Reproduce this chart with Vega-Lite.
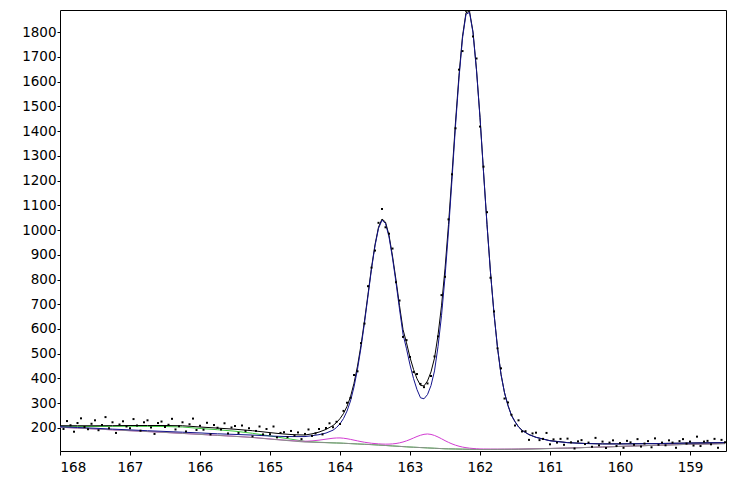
{
 "$schema": "https://vega.github.io/schema/vega-lite/v6.json",
 "width": 666,
 "height": 441,
 "autosize": {"type": "none"},
 "padding": {"left": 60, "top": 10, "right": 10, "bottom": 28},
 "config": {
  "view": {"stroke": "#000", "strokeWidth": 1},
  "axis": {"labelFont": "DejaVu Sans", "labelFontSize": 13.5, "labelColor": "#000", "tickColor": "#000", "domain": false, "grid": false, "title": null, "labelOverlap": false}
 },
 "datasets": {
  "fit": [
   {"E":168.00,"bg":203,"mag":203,"grn":207,"blu":205,"env":209},
   {"E":167.75,"bg":199.5,"mag":199.5,"grn":206.5,"blu":202,"env":209},
   {"E":167.50,"bg":196,"mag":196,"grn":206,"blu":199,"env":209},
   {"E":167.25,"bg":192.5,"mag":192.5,"grn":206.5,"blu":195.4,"env":209.4},
   {"E":167.00,"bg":189,"mag":189,"grn":207,"blu":192.3,"env":210},
   {"E":166.75,"bg":185.5,"mag":185.5,"grn":206.5,"blu":189,"env":210},
   {"E":166.50,"bg":182,"mag":182.1,"grn":206,"blu":186,"env":210},
   {"E":166.25,"bg":178,"mag":178.1,"grn":204,"blu":183,"env":209},
   {"E":166.00,"bg":174,"mag":174.2,"grn":198,"blu":180,"env":204},
   {"E":165.75,"bg":170,"mag":170.3,"grn":193,"blu":176.5,"env":199.5},
   {"E":165.50,"bg":166,"mag":166.4,"grn":187,"blu":174,"env":195},
   {"E":165.25,"bg":161.5,"mag":162,"grn":178.5,"blu":171.4,"env":189},
   {"E":165.00,"bg":155,"mag":155.7,"grn":168,"blu":167.6,"env":181.3},
   {"E":164.90,"bg":152.6,"mag":153.4,"grn":163.6,"blu":166.5,"env":178.3},
   {"E":164.80,"bg":150.2,"mag":151.2,"grn":159.2,"blu":165.7,"env":175.7},
   {"E":164.70,"bg":147.8,"mag":149.1,"grn":154.8,"blu":165.3,"env":173.6},
   {"E":164.60,"bg":145.4,"mag":147.4,"grn":150.4,"blu":165.2,"env":172.2},
   {"E":164.50,"bg":143,"mag":146.2,"grn":146,"blu":165.4,"env":171.6},
   {"E":164.40,"bg":142.2,"mag":147.8,"grn":144.2,"blu":168.7,"env":176.3},
   {"E":164.30,"bg":141.4,"mag":150.8,"grn":142.4,"blu":173,"env":183.4},
   {"E":164.20,"bg":140.6,"mag":154.8,"grn":141.1,"blu":179.5,"env":194.2},
   {"E":164.10,"bg":139.8,"mag":158.6,"grn":139.8,"blu":191.1,"env":209.9},
   {"E":164.05,"bg":139.4,"mag":159.6,"grn":139.4,"blu":201.8,"env":222},
   {"E":164.00,"bg":139,"mag":159.8,"grn":139,"blu":217,"env":237.8},
   {"E":163.95,"bg":138.3,"mag":158.6,"grn":138.3,"blu":238.2,"env":258.5},
   {"E":163.90,"bg":137.6,"mag":156.6,"grn":137.6,"blu":268.3,"env":287.3},
   {"E":163.85,"bg":136.9,"mag":153.9,"grn":136.9,"blu":309.2,"env":326.2},
   {"E":163.80,"bg":136.2,"mag":150.9,"grn":136.2,"blu":365.9,"env":380.6},
   {"E":163.75,"bg":135.5,"mag":147.9,"grn":135.5,"blu":437.7,"env":450.1},
   {"E":163.70,"bg":134.8,"mag":145,"grn":134.8,"blu":524.8,"env":535},
   {"E":163.65,"bg":134.1,"mag":142.4,"grn":134.1,"blu":625.2,"env":633.5},
   {"E":163.60,"bg":133.4,"mag":140.2,"grn":133.4,"blu":733.6,"env":740.4},
   {"E":163.55,"bg":132.7,"mag":138.3,"grn":132.7,"blu":842.3,"env":847.9},
   {"E":163.50,"bg":132,"mag":137,"grn":132,"blu":935.9,"env":940.9},
   {"E":163.45,"bg":131.1,"mag":135.8,"grn":131.1,"blu":1006.6,"env":1011.3},
   {"E":163.40,"bg":130.2,"mag":135,"grn":130.2,"blu":1039.6,"env":1044.4},
   {"E":163.35,"bg":129.3,"mag":134.7,"grn":129.3,"blu":1026.6,"env":1032},
   {"E":163.30,"bg":128.4,"mag":134.9,"grn":128.4,"blu":972.2,"env":978.7},
   {"E":163.25,"bg":127.5,"mag":135.7,"grn":127.5,"blu":886.7,"env":894.9},
   {"E":163.20,"bg":126.6,"mag":137.3,"grn":126.6,"blu":787.5,"env":798.2},
   {"E":163.15,"bg":125.7,"mag":139.9,"grn":125.7,"blu":680.4,"env":694.6},
   {"E":163.10,"bg":124.8,"mag":143.4,"grn":124.8,"blu":579.4,"env":598},
   {"E":163.05,"bg":123.9,"mag":148,"grn":123.9,"blu":520,"env":544},
   {"E":163.00,"bg":123,"mag":153.4,"grn":123,"blu":455,"env":485},
   {"E":162.95,"bg":122.3,"mag":159.5,"grn":122.3,"blu":400,"env":437},
   {"E":162.90,"bg":121.6,"mag":165.6,"grn":121.6,"blu":355,"env":399},
   {"E":162.85,"bg":120.9,"mag":170.7,"grn":120.9,"blu":322,"env":372},
   {"E":162.80,"bg":120.2,"mag":174.4,"grn":120.2,"blu":318,"env":370},
   {"E":162.75,"bg":119.5,"mag":175.8,"grn":119.5,"blu":335,"env":390},
   {"E":162.70,"bg":118.8,"mag":174,"grn":118.8,"blu":371.6,"env":426.8},
   {"E":162.65,"bg":118.1,"mag":169.8,"grn":118.1,"blu":430.7,"env":482.4},
   {"E":162.60,"bg":117.4,"mag":163.6,"grn":117.4,"blu":528.6,"env":574.8},
   {"E":162.55,"bg":116.7,"mag":156.5,"grn":116.7,"blu":653.7,"env":693.5},
   {"E":162.50,"bg":116,"mag":148.8,"grn":116,"blu":810.1,"env":842.9},
   {"E":162.45,"bg":115.7,"mag":141.9,"grn":115.7,"blu":995.8,"env":1022},
   {"E":162.40,"bg":115.4,"mag":135.7,"grn":115.4,"blu":1204.5,"env":1224.8},
   {"E":162.35,"bg":115.1,"mag":130.5,"grn":115.1,"blu":1420.9,"env":1436.3},
   {"E":162.30,"bg":114.8,"mag":126.3,"grn":114.8,"blu":1614.4,"env":1625.9},
   {"E":162.25,"bg":114.5,"mag":122.9,"grn":114.5,"blu":1774.7,"env":1783.1},
   {"E":162.20,"bg":114.2,"mag":120.4,"grn":114.2,"blu":1871.9,"env":1878.1},
   {"E":162.15,"bg":113.9,"mag":118.5,"grn":113.9,"blu":1879.3,"env":1883.9},
   {"E":162.10,"bg":113.6,"mag":117.2,"grn":113.6,"blu":1797.1,"env":1800.7},
   {"E":162.05,"bg":113.3,"mag":116.2,"grn":113.3,"blu":1644.7,"env":1647.6},
   {"E":162.00,"bg":113,"mag":115.3,"grn":113,"blu":1453.7,"env":1456},
   {"E":161.95,"bg":113.1,"mag":115.1,"grn":113.1,"blu":1234.8,"env":1236.8},
   {"E":161.90,"bg":113.2,"mag":114.9,"grn":113.2,"blu":1021.4,"env":1023.1},
   {"E":161.85,"bg":113.3,"mag":114.8,"grn":113.3,"blu":827.3,"env":828.8},
   {"E":161.80,"bg":113.4,"mag":114.7,"grn":113.4,"blu":661.4,"env":662.7},
   {"E":161.75,"bg":113.5,"mag":114.6,"grn":113.5,"blu":523.8,"env":524.9},
   {"E":161.70,"bg":113.6,"mag":114.6,"grn":113.6,"blu":416.2,"env":417.2},
   {"E":161.65,"bg":113.7,"mag":114.6,"grn":113.7,"blu":342,"env":342.9},
   {"E":161.60,"bg":113.8,"mag":114.6,"grn":113.8,"blu":290,"env":291},
   {"E":161.55,"bg":113.9,"mag":114.7,"grn":113.9,"blu":250,"env":251},
   {"E":161.50,"bg":114,"mag":114.8,"grn":114,"blu":225,"env":226},
   {"E":161.45,"bg":114.3,"mag":114.9,"grn":114.3,"blu":204,"env":205},
   {"E":161.40,"bg":114.6,"mag":115,"grn":114.6,"blu":190,"env":191},
   {"E":161.30,"bg":115.2,"mag":115.6,"grn":115.2,"blu":173,"env":173.5},
   {"E":161.20,"bg":115.8,"mag":116.2,"grn":115.8,"blu":162,"env":162.5},
   {"E":161.10,"bg":116.4,"mag":116.8,"grn":116.4,"blu":155,"env":155.5},
   {"E":161.00,"bg":117,"mag":117.4,"grn":117,"blu":148.3,"env":148.8},
   {"E":160.75,"bg":118.5,"mag":118.8,"grn":118.5,"blu":140.7,"env":141},
   {"E":160.50,"bg":121,"mag":121.2,"grn":121,"blu":137.3,"env":137.5},
   {"E":160.25,"bg":123,"mag":123.2,"grn":123,"blu":135.6,"env":135.8},
   {"E":160.00,"bg":125.5,"mag":125.6,"grn":125.5,"blu":135.6,"env":135.8},
   {"E":159.50,"bg":130,"mag":130.1,"grn":130,"blu":136.9,"env":137},
   {"E":159.00,"bg":134,"mag":134.1,"grn":134,"blu":139.1,"env":139.2},
   {"E":158.50,"bg":137,"mag":137.1,"grn":137,"blu":140.9,"env":141}
  ],
  "pts": [
   {"E":168.00,"c":215},{"E":167.95,"c":196},{"E":167.90,"c":228},{"E":167.85,"c":211},{"E":167.80,"c":185},
   {"E":167.75,"c":220},{"E":167.70,"c":239},{"E":167.65,"c":204},{"E":167.60,"c":195},{"E":167.55,"c":217},
   {"E":167.50,"c":231},{"E":167.45,"c":191},{"E":167.40,"c":212},{"E":167.35,"c":244},{"E":167.30,"c":199},
   {"E":167.25,"c":223},{"E":167.20,"c":180},{"E":167.15,"c":214},{"E":167.10,"c":227},{"E":167.05,"c":206},
   {"E":167.00,"c":199},{"E":166.95,"c":236},{"E":166.90,"c":210},{"E":166.85,"c":189},{"E":166.80,"c":223},
   {"E":166.75,"c":231},{"E":166.70,"c":202},{"E":166.65,"c":176},{"E":166.60,"c":220},{"E":166.55,"c":226},
   {"E":166.50,"c":204},{"E":166.45,"c":213},{"E":166.40,"c":237},{"E":166.35,"c":194},{"E":166.30,"c":207},
   {"E":166.25,"c":223},{"E":166.20,"c":186},{"E":166.15,"c":215},{"E":166.10,"c":238},{"E":166.05,"c":192},
   {"E":166.00,"c":209},{"E":165.95,"c":193},{"E":165.90,"c":221},{"E":165.85,"c":174},{"E":165.80,"c":212},
   {"E":165.75,"c":201},{"E":165.70,"c":194},{"E":165.65,"c":219},{"E":165.60,"c":178},{"E":165.55,"c":202},
   {"E":165.50,"c":208},{"E":165.45,"c":180},{"E":165.40,"c":210},{"E":165.35,"c":188},{"E":165.30,"c":199},
   {"E":165.25,"c":166},{"E":165.20,"c":188},{"E":165.15,"c":206},{"E":165.10,"c":174},{"E":165.05,"c":196},
   {"E":165.00,"c":175},{"E":164.95,"c":206},{"E":164.90,"c":162},{"E":164.85,"c":180},{"E":164.80,"c":183},
   {"E":164.75,"c":163},{"E":164.70,"c":188},{"E":164.65,"c":169},{"E":164.60,"c":182},{"E":164.55,"c":155},
   {"E":164.50,"c":176},{"E":164.45,"c":194},{"E":164.40,"c":168},{"E":164.35,"c":178},{"E":164.30,"c":196},
   {"E":164.25,"c":174},{"E":164.20,"c":200},{"E":164.15,"c":219},{"E":164.10,"c":203},{"E":164.05,"c":225},
   {"E":164.00,"c":216},{"E":163.95,"c":269},{"E":163.90,"c":302},{"E":163.85,"c":322},{"E":163.80,"c":414},
   {"E":163.75,"c":429},{"E":163.70,"c":543},{"E":163.65,"c":622},{"E":163.60,"c":773},{"E":163.55,"c":848},
   {"E":163.50,"c":917},{"E":163.45,"c":1029},{"E":163.40,"c":1085},{"E":163.35,"c":1011},{"E":163.30,"c":985},
   {"E":163.25,"c":925},{"E":163.20,"c":789},{"E":163.15,"c":715},{"E":163.10,"c":568},{"E":163.05,"c":555},
   {"E":163.00,"c":487},{"E":162.95,"c":426},{"E":162.90,"c":418},{"E":162.85,"c":378},{"E":162.80,"c":365},
   {"E":162.75,"c":380},{"E":162.70,"c":410},{"E":162.65,"c":489},{"E":162.60,"c":570},{"E":162.55,"c":737},
   {"E":162.50,"c":811},{"E":162.45,"c":1043},{"E":162.40,"c":1225},{"E":162.35,"c":1411},{"E":162.30,"c":1648},
   {"E":162.25,"c":1723},{"E":162.20,"c":1886},{"E":162.15,"c":1888},{"E":162.10,"c":1782},{"E":162.05,"c":1693},
   {"E":162.00,"c":1418},{"E":161.95,"c":1256},{"E":161.90,"c":1072},{"E":161.85,"c":807},{"E":161.80,"c":671},
   {"E":161.75,"c":522},{"E":161.70,"c":441},{"E":161.65,"c":319},{"E":161.60,"c":303},{"E":161.55,"c":253},
   {"E":161.50,"c":210},{"E":161.45,"c":231},{"E":161.40,"c":186},{"E":161.35,"c":187},{"E":161.30,"c":152},
   {"E":161.25,"c":178},{"E":161.20,"c":181},{"E":161.15,"c":151},{"E":161.10,"c":156},{"E":161.05,"c":180},
   {"E":161.00,"c":134},{"E":160.95,"c":154},{"E":160.90,"c":141},{"E":160.85,"c":156},{"E":160.80,"c":132},
   {"E":160.75,"c":157},{"E":160.70,"c":142},{"E":160.65,"c":117},{"E":160.60,"c":146},{"E":160.55,"c":151},
   {"E":160.50,"c":135},{"E":160.45,"c":141},{"E":160.40,"c":124},{"E":160.35,"c":160},{"E":160.30,"c":130},
   {"E":160.25,"c":145},{"E":160.20,"c":119},{"E":160.15,"c":141},{"E":160.10,"c":150},{"E":160.05,"c":127},
   {"E":160.00,"c":139},{"E":159.95,"c":120},{"E":159.90,"c":148},{"E":159.85,"c":142},{"E":159.80,"c":132},
   {"E":159.75,"c":155},{"E":159.70,"c":125},{"E":159.65,"c":137},{"E":159.60,"c":147},{"E":159.55,"c":122},
   {"E":159.50,"c":158},{"E":159.45,"c":132},{"E":159.40,"c":141},{"E":159.35,"c":130},{"E":159.30,"c":150},
   {"E":159.25,"c":141},{"E":159.20,"c":120},{"E":159.15,"c":147},{"E":159.10,"c":155},{"E":159.05,"c":137},
   {"E":159.00,"c":145},{"E":158.95,"c":129},{"E":158.90,"c":165},{"E":158.85,"c":127},{"E":158.80,"c":145},
   {"E":158.75,"c":148},{"E":158.70,"c":134},{"E":158.65,"c":156},{"E":158.60,"c":120},{"E":158.55,"c":152},
   {"E":158.50,"c":142}
  ]
 },
 "encoding": {
  "x": {"field": "E", "type": "quantitative",
   "scale": {"domain": [158.486, 168], "reverse": true, "nice": false, "zero": false},
   "axis": {"values": [159,160,161,162,163,164,165,166,167,168], "format": "d", "tickSize": 4, "labelPadding": 5}}
 },
 "layer": [
  {"data": {"name": "fit"}, "mark": {"type": "line", "color": "#3cc83c", "strokeWidth": 1, "clip": true},
   "encoding": {"y": {"field": "grn", "type": "quantitative", "scale": {"domain": [107, 1889], "nice": false, "zero": false},
    "axis": {"values": [200,300,400,500,600,700,800,900,1000,1100,1200,1300,1400,1500,1600,1700,1800], "format": "d", "tickSize": 3, "labelPadding": 1, "labelOverlap": false}}}},
  {"data": {"name": "fit"}, "mark": {"type": "line", "color": "#d23cd2", "strokeWidth": 1, "clip": true},
   "encoding": {"y": {"field": "mag", "type": "quantitative", "scale": {"domain": [107, 1889], "nice": false, "zero": false},
    "axis": {"values": [200,300,400,500,600,700,800,900,1000,1100,1200,1300,1400,1500,1600,1700,1800], "format": "d", "tickSize": 3, "labelPadding": 1, "labelOverlap": false}}}},
  {"data": {"name": "fit"}, "mark": {"type": "line", "color": "#8c8c8c", "strokeWidth": 1, "clip": true},
   "encoding": {"y": {"field": "bg", "type": "quantitative", "scale": {"domain": [107, 1889], "nice": false, "zero": false},
    "axis": {"values": [200,300,400,500,600,700,800,900,1000,1100,1200,1300,1400,1500,1600,1700,1800], "format": "d", "tickSize": 3, "labelPadding": 1, "labelOverlap": false}}}},
  {"data": {"name": "fit"}, "mark": {"type": "line", "color": "#000000", "strokeWidth": 1, "clip": true},
   "encoding": {"y": {"field": "env", "type": "quantitative", "scale": {"domain": [107, 1889], "nice": false, "zero": false},
    "axis": {"values": [200,300,400,500,600,700,800,900,1000,1100,1200,1300,1400,1500,1600,1700,1800], "format": "d", "tickSize": 3, "labelPadding": 1, "labelOverlap": false}}}},
  {"data": {"name": "fit"}, "mark": {"type": "line", "color": "#14148c", "strokeWidth": 1, "clip": true},
   "encoding": {"y": {"field": "blu", "type": "quantitative", "scale": {"domain": [107, 1889], "nice": false, "zero": false},
    "axis": {"values": [200,300,400,500,600,700,800,900,1000,1100,1200,1300,1400,1500,1600,1700,1800], "format": "d", "tickSize": 3, "labelPadding": 1, "labelOverlap": false}}}},
  {"data": {"name": "pts"}, "mark": {"type": "square", "size": 4, "color": "#000000", "opacity": 1, "clip": true},
   "encoding": {"y": {"field": "c", "type": "quantitative", "scale": {"domain": [107, 1889], "nice": false, "zero": false},
    "axis": {"values": [200,300,400,500,600,700,800,900,1000,1100,1200,1300,1400,1500,1600,1700,1800], "format": "d", "tickSize": 3, "labelPadding": 1, "labelOverlap": false}}}}
 ]
}
